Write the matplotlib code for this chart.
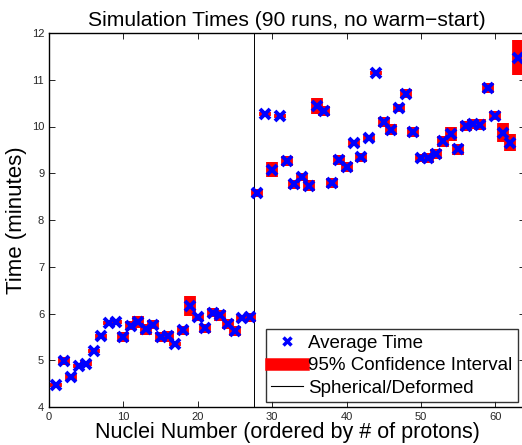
import numpy as np
import matplotlib
matplotlib.use('Agg')
import matplotlib.pyplot as plt
from matplotlib.lines import Line2D

plt.rcParams['font.family'] = ['Liberation Sans', 'DejaVu Sans']

# nuclei index 1..63
nuclei = np.arange(1, 64)

avg_time = [4.47, 4.98, 4.64, 4.88, 4.93, 5.19, 5.51, 5.79, 5.82, 5.50,
            5.74, 5.81, 5.66, 5.76, 5.50, 5.51, 5.34, 5.64, 6.16, 5.92,
            5.68, 6.02, 5.96, 5.78, 5.62, 5.90, 5.92, 8.58, 10.27, 9.08,
            10.22, 9.26, 8.76, 8.92, 8.73, 10.44, 10.33, 8.79, 9.28, 9.14,
            9.65, 9.34, 9.75, 11.15, 10.10, 9.93, 10.40, 10.70, 9.88, 9.33,
            9.33, 9.41, 9.68, 9.83, 9.51, 10.01, 10.05, 10.04, 10.82, 10.23,
            9.87, 9.65, 11.47]

ci_half = [0.05, 0.09, 0.06, 0.05, 0.05, 0.04, 0.05, 0.04, 0.04, 0.10,
           0.10, 0.13, 0.11, 0.10, 0.10, 0.12, 0.04, 0.09, 0.21, 0.07,
           0.10, 0.10, 0.12, 0.11, 0.11, 0.06, 0.10, 0.08, 0.04, 0.17,
           0.04, 0.10, 0.10, 0.08, 0.12, 0.17, 0.10, 0.11, 0.11, 0.11,
           0.07, 0.10, 0.07, 0.04, 0.10, 0.12, 0.08, 0.10, 0.11, 0.09,
           0.11, 0.10, 0.11, 0.15, 0.12, 0.11, 0.11, 0.11, 0.10, 0.10,
           0.21, 0.18, 0.37]

split = 27.5

fig = plt.figure(figsize=(5.22, 4.45), dpi=100)
ax = fig.add_axes([49 / 522, 38 / 445, 476 / 522, 374 / 445])

avg = np.array(avg_time)
ci = np.array(ci_half)
ax.vlines(nuclei, avg - ci, avg + ci, colors='red', linewidth=8.5, zorder=2)
ax.plot(nuclei, avg, 'x', color='blue', markersize=7.5, markeredgewidth=2.8, zorder=3)
ax.axvline(split, color='black', linewidth=0.7, zorder=1)

ax.set_xlim(0, 64)
ax.set_ylim(4, 12)
ax.set_xticks(range(0, 61, 10))
ax.set_yticks(range(4, 13))
ax.tick_params(direction='in', top=True, right=True, labelsize=8, labelcolor='#262626',
               length=4, width=0.6)
for s in ax.spines.values():
    s.set_linewidth(1.0)

ax.set_title('Simulation Times (90 runs, no warm\u2212start)', fontsize=15.2, pad=5)
ax.set_xlabel('Nuclei Number (ordered by # of protons)', fontsize=15.5, labelpad=0)
ax.set_ylabel('Time (minutes)', fontsize=16, labelpad=3)

handles = [
    Line2D([], [], linestyle='none', marker='x', color='blue', markersize=5.5, markeredgewidth=2.5),
    Line2D([], [], color='red', linewidth=9),
    Line2D([], [], color='black', linewidth=0.8),
]
labels = ['Average Time', '95% Confidence Interval', 'Spherical/Deformed']
leg = ax.legend(handles, labels, loc='lower right', bbox_to_anchor=(0.995, 0.0),
                fontsize=13.5, frameon=True, fancybox=False, edgecolor='black',
                borderpad=0.3, labelspacing=0.28, handlelength=1.7, handletextpad=0.25,
                borderaxespad=0.25)
leg.get_frame().set_linewidth(1.0)

fig.savefig('out.png', dpi=100)
